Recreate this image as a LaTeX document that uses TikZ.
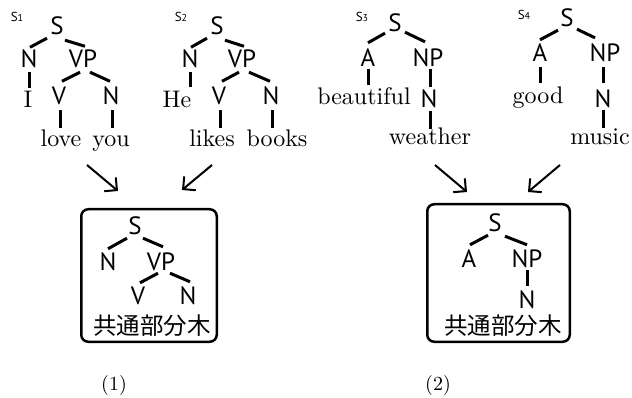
\documentclass[tikz,border=0pt]{standalone}
\usepackage{fontspec}
\setsansfont{PT Sans}
\newfontfamily\wordfont{lmroman10-regular.otf}
\newfontfamily\jpfont{Noto Sans CJK JP}
\usetikzlibrary{arrows.meta,calc}

% tree tag such as S_1: small S with a smaller digit on the baseline
\newcommand\treetag[1]{S{\fontsize{10}{10}\selectfont #1}}

\begin{document}
\begin{tikzpicture}[x=1pt,y=-1pt,
  cat/.style={font=\sffamily\fontsize{25}{25}\selectfont, inner sep=0pt,
              text height=17.5pt, text depth=0pt, anchor=base},
  word/.style={font=\wordfont\fontsize{24}{24}\selectfont, inner sep=0pt,
               text height=15pt, text depth=5pt, anchor=base},
  tag/.style={font=\sffamily\fontsize{13}{13}\selectfont, inner sep=0pt, anchor=base},
  cjk/.style={font=\jpfont\fontsize{23.5}{23.5}\selectfont, inner sep=0pt,
              text height=16pt, text depth=2pt, anchor=base},
  branch/.style={line width=3pt},
  flow/.style={line width=2pt, -{Straight Barb[length=9pt,width=18pt,line width=2pt]}},
  frame/.style={draw, line width=2.5pt, rounded corners=7pt, inner sep=0pt},
  numlabel/.style={font=\wordfont\fontsize{20}{20}\selectfont, inner sep=0pt, anchor=base},
]
\useasboundingbox (0,0) rectangle (632,398);

% ---------- tree S1 ----------
\node[tag]  (s1tag)  at (17,22)   {\treetag{1}};
\node[cat]  (t1s)    at (57,35)   {S};
\node[cat]  (t1n)    at (29,68)   {N};
\node[cat]  (t1vp)   at (83,68)   {VP};
\node[word] (t1i)    at (28,108)  {I};
\node[cat]  (t1v)    at (59,105)  {V};
\node[cat]  (t1n2)   at (111,105) {N};
\node[word] (t1love) at (61,147)  {love};
\node[word] (t1you)  at (111,147) {you};
\draw[branch] ([shift={(-10,3)}]t1s.south) -- ([shift={(1,-3)}]t1n.north);
\draw[branch] ([shift={(8,5)}]t1s.south) -- ([shift={(2,-4)}]t1vp.north);
\draw[branch] ([shift={(0,4)}]t1n.south) -- ($(t1n.south |- t1i.north)+(0,-5)$);
\draw[branch] ([shift={(-3,4)}]t1vp.south) -- ([shift={(3,-6)}]t1v.north);
\draw[branch] ([shift={(7,4)}]t1vp.south) -- ([shift={(-1,-6)}]t1n2.north);
\draw[branch] ([shift={(1,5)}]t1v.south) -- ($(t1v.south |- t1love.north)+(1,-4)$);
\draw[branch] ([shift={(1,5)}]t1n2.south) -- ($(t1n2.south |- t1you.north)+(1,-4)$);

% ---------- tree S2 ----------
\node[tag]  (s2tag)   at (181,22)  {\treetag{2}};
\node[cat]  (t2s)     at (217,35)  {S};
\node[cat]  (t2n)     at (190,68)  {N};
\node[cat]  (t2vp)    at (242,68)  {VP};
\node[word] (t2he)    at (177,108) {He};
\node[cat]  (t2v)     at (219,105) {V};
\node[cat]  (t2n2)    at (271,105) {N};
\node[word] (t2likes) at (212,147) {likes};
\node[word] (t2books) at (277,147) {books};
\draw[branch] ([shift={(-10,3)}]t2s.south) -- ([shift={(1,-3)}]t2n.north);
\draw[branch] ([shift={(8,5)}]t2s.south) -- ([shift={(2,-4)}]t2vp.north);
\draw[branch] ([shift={(0,4)}]t2n.south) -- ($(t2n.south |- t2he.north)+(0,-6)$);
\draw[branch] ([shift={(-3,4)}]t2vp.south) -- ([shift={(3,-6)}]t2v.north);
\draw[branch] ([shift={(7,4)}]t2vp.south) -- ([shift={(-1,-6)}]t2n2.north);
\draw[branch] ([shift={(1,5)}]t2v.south) -- ($(t2v.south |- t2likes.north)+(1,-4)$);
\draw[branch] ([shift={(1,5)}]t2n2.south) -- ($(t2n2.south |- t2books.north)+(1,-4)$);

% ---------- tree S3 ----------
\node[tag]  (s3tag)  at (362,22)  {\treetag{3}};
\node[cat]  (t3s)    at (395,32)  {S};
\node[cat]  (t3a)    at (368,67)  {A};
\node[cat]  (t3np)   at (428,67)  {NP};
\node[word] (t3beau) at (364,105) {beautiful};
\node[cat]  (t3n)    at (429,108) {N};
\node[word] (t3wea)  at (430,145) {weather};
\draw[branch] ([shift={(-10,1)}]t3s.south) -- ([shift={(0,-6.5)}]t3a.north);
\draw[branch] ([shift={(10,0)}]t3s.south) -- ([shift={(-3,-7.5)}]t3np.north);
\draw[branch] ([shift={(0,2)}]t3a.south) -- ($(t3a.south |- t3beau.north)+(0,-5)$);
\draw[branch] ($(t3n.north |- t3np.south)+(1,2)$) -- ([shift={(1,-3)}]t3n.north);
\draw[branch] ([shift={(1,3)}]t3n.south) -- ($(t3n.south |- t3wea.north)+(1,-1)$);

% ---------- tree S4 ----------
\node[tag]  (s4tag)   at (524,20)  {\treetag{4}};
\node[cat]  (t4s)     at (567,27)  {S};
\node[cat]  (t4a)     at (540,62)  {A};
\node[cat]  (t4np)    at (605,62)  {NP};
\node[word] (t4good)  at (538,104) {good};
\node[cat]  (t4n)     at (603,108) {N};
\node[word] (t4music) at (600,145) {music};
\draw[branch] ([shift={(-9,3)}]t4s.south) -- ([shift={(0,-4.5)}]t4a.north);
\draw[branch] ([shift={(10,2)}]t4s.south) -- ([shift={(-10,-6.5)}]t4np.north);
\draw[branch] ([shift={(0,5)}]t4a.south) -- ($(t4a.south |- t4good.north)+(0,-6)$);
\draw[branch] ($(t4n.north |- t4np.south)+(0,5)$) -- ([shift={(0,-7)}]t4n.north);
\draw[branch] ([shift={(0,2)}]t4n.south) -- ($(t4n.south |- t4music.north)+(0,-2)$);

% ---------- common subtree (1) ----------
\node[frame, minimum width=135.5pt, minimum height=132.5pt] (box1) at (149,275.5) {};
\node[cat] (b1s)  at (135,235) {S};
\node[cat] (b1n)  at (108,270) {N};
\node[cat] (b1vp) at (161,270) {VP};
\node[cat] (b1v)  at (138,305) {V};
\node[cat] (b1n2) at (188,305) {N};
\node[cjk] (b1cap) at (152,334) {共通部分木};
\draw[branch] ([shift={(-8,3)}]b1s.south) -- ([shift={(0,-3.5)}]b1n.north);
\draw[branch] ([shift={(8,3)}]b1s.south) -- ([shift={(2,-5.5)}]b1vp.north);
\draw[branch] ([shift={(-3,3)}]b1vp.south) -- ([shift={(2,-4.5)}]b1v.north);
\draw[branch] ([shift={(9,3)}]b1vp.south) -- ([shift={(2,-5.5)}]b1n2.north);

% ---------- common subtree (2) ----------
\node[frame, minimum width=142.5pt, minimum height=137.5pt] (box2) at (498.5,273) {};
\node[cat] (b2s)  at (495,232) {S};
\node[cat] (b2a)  at (469,268) {A};
\node[cat] (b2np) at (527,268) {NP};
\node[cat] (b2n)  at (527,308) {N};
\node[cjk] (b2cap) at (503,334) {共通部分木};
\draw[branch] ([shift={(-7,3)}]b2s.south) -- ([shift={(1,-5.5)}]b2a.north);
\draw[branch] ([shift={(10,4)}]b2s.south) -- ([shift={(0,-5.5)}]b2np.north);
\draw[branch] ($(b2n.north |- b2np.south)+(0,2)$) -- ([shift={(0,-4)}]b2n.north);

% ---------- arrows into the boxes ----------
\coordinate (a1from) at (87,165);  \coordinate (a1to) at (118,191);
\coordinate (a2from) at (212,165); \coordinate (a2to) at (182,190);
\coordinate (a3from) at (435,165); \coordinate (a3to) at (467,192);
\coordinate (a4from) at (560,165); \coordinate (a4to) at (528,192);
\draw[flow] (a1from) -- (a1to);
\draw[flow] (a2from) -- (a2to);
\draw[flow] (a3from) -- (a3to);
\draw[flow] (a4from) -- (a4to);

% ---------- captions ----------
\node[numlabel] (lab1) at (114,390) {(1)};
\node[numlabel] (lab2) at (438,390) {(2)};
\end{tikzpicture}
\end{document}
